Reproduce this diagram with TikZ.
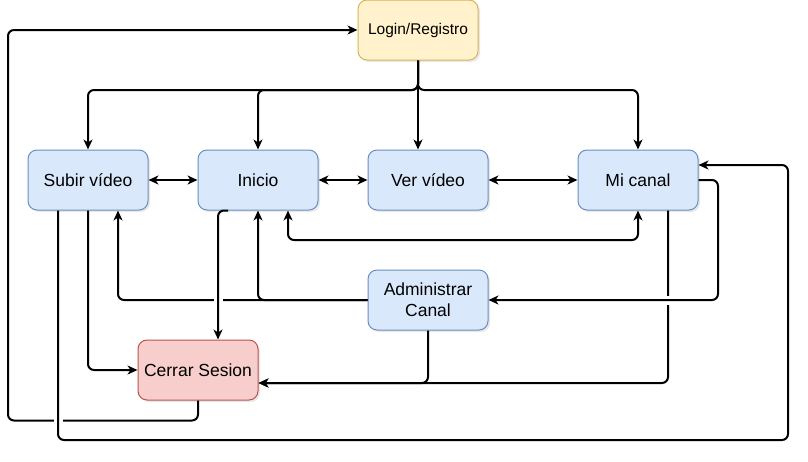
\documentclass[tikz,border=0pt]{standalone}
\usepackage{fontspec}
\setmainfont{Liberation Sans}
\usetikzlibrary{arrows.meta,shadows,calc}
\definecolor{bfill}{HTML}{DAE8FC}\definecolor{bdraw}{HTML}{6C8EBF}
\definecolor{yfill}{HTML}{FFF2CC}\definecolor{ydraw}{HTML}{D6B656}
\definecolor{rfill}{HTML}{F8CECC}\definecolor{rdraw}{HTML}{B85450}
\begin{document}
\begin{tikzpicture}[x=1pt,y=-1pt,
  boxbase/.style={rectangle, rounded corners=9pt, minimum width=120pt, minimum height=60pt,
    inner sep=0pt, line width=1pt, align=center,
    drop shadow={opacity=0.18, shadow xshift=2pt, shadow yshift=-2pt},
    font=\fontsize{17.5}{21}\selectfont},
  bluebox/.style={boxbase, fill=bfill, draw=bdraw},
  yellowbox/.style={boxbase, fill=yfill, draw=ydraw, font=\fontsize{15.5}{19}\selectfont},
  redbox/.style={boxbase, fill=rfill, draw=rdraw},
  tip/.style={},
  conn/.style={line width=2pt, rounded corners=6pt, -{Stealth[length=10pt,width=9pt,inset=3pt]}},
  biconn/.style={line width=2pt, rounded corners=6pt, {Stealth[length=10pt,width=9pt,inset=3pt]}-{Stealth[length=10pt,width=9pt,inset=3pt]}},
  gap/.style={fill=white}]
\useasboundingbox (0,0) rectangle (808,461);

\node[yellowbox] (login) at (418,30) {Login/Registro};
\node[bluebox] (subir) at (88,180) {Subir vídeo};
\node[bluebox] (inicio) at (258,180) {Inicio};
\node[bluebox] (vervideo) at (428,180) {Ver vídeo};
\node[bluebox] (micanal) at (638,180) {Mi canal};
\node[bluebox] (admin) at (428,300) {Administrar\\Canal};
\node[redbox] (cerrar) at (198,370) {Cerrar Sesion};

% Login to row
\draw[conn] (login.south) -- (login.south |- 0,90) -| (subir.north);
\draw[conn] (login.south) -- (login.south |- 0,90) -| (inicio.north);
\draw[conn] (login.south) -- (login.south |- vervideo.north);
\draw[conn] (login.south) -- (login.south |- 0,90) -| (micanal.north);

% row links
\draw[biconn] (subir.east) -- (inicio.west);
\draw[biconn] (inicio.east) -- (vervideo.west);
\draw[biconn] (vervideo.east) -- (micanal.west);
\draw[biconn] (inicio.south -| 288,0) -- (288,240) -| (micanal.south);

% Administrar to Inicio / Subir
\draw[conn] (admin.west) -| (inicio.south);
\draw[conn] (admin.west) -| (subir.south -| 118,0);
\fill[gap] (213.5,296) rectangle (222.5,304);
\draw[conn] (inicio.south -| 228,0) -| (cerrar.north -| 218,0);

% to Cerrar Sesion
\draw[conn] (subir.south) |- (cerrar.west);
\draw[conn] (micanal.south -| 668,0) |- (cerrar.east |- 0,383);
\draw[conn] (admin.south) |- (cerrar.east |- 0,383);
\fill[gap] (664,295.5) rectangle (672,304.5);
\draw[conn] (micanal.east) -- (718,0 |- micanal.east) |- (admin.east);

% Cerrar to Login
\draw[conn] (cerrar.south) -- ++(0,20) -| (8,0 |- login.west) -- (login.west);
\fill[gap] (53.5,416) rectangle (62.5,424);
\draw[conn] (subir.south -| 58,0) |- (788,440) |- (micanal.east |- 0,165);
\end{tikzpicture}
\end{document}
